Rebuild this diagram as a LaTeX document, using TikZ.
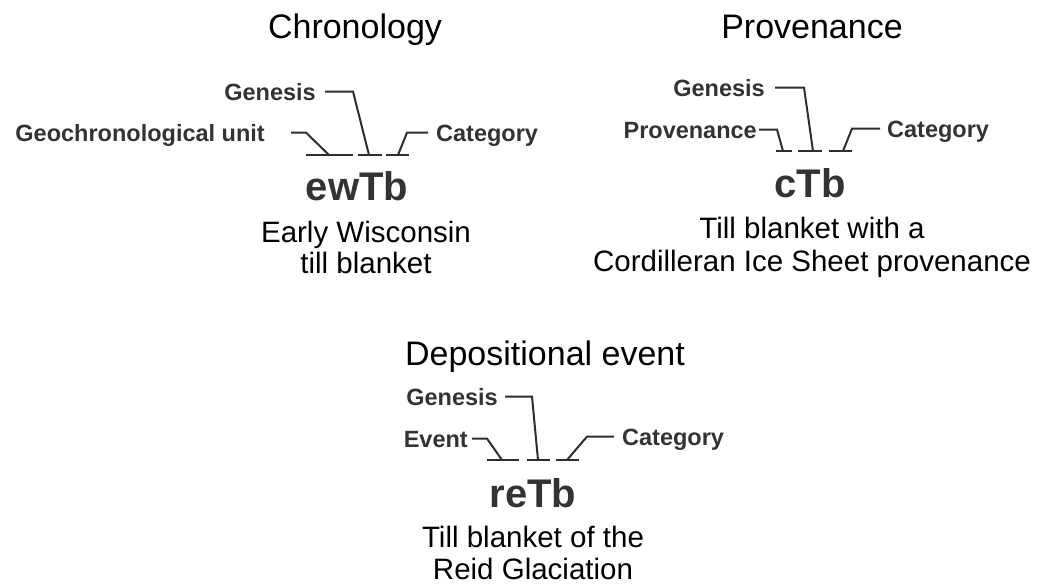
\documentclass[tikz,border=0pt]{standalone}
\usepackage{fontspec}
\setmainfont{Liberation Sans}
\definecolor{labc}{HTML}{333333}
\definecolor{linec}{HTML}{2E2E2E}
\newcommand{\titlefont}{\fontsize{34}{40}\selectfont}
\newcommand{\descfont}{\fontsize{29.5}{34}\selectfont}
\newcommand{\lblfont}{\fontsize{23.5}{28}\selectfont\bfseries}
\newcommand{\codefont}{\fontsize{40}{46}\selectfont\bfseries}
\tikzset{
  ttl/.style={font=\titlefont, text=black, inner sep=0, anchor=base},
  desc/.style={font=\descfont, text=black, inner sep=0, anchor=base},
  lbl/.style={font=\lblfont, text=labc, inner sep=0, text height=16.8pt, text depth=0pt},
  code/.style={font=\codefont, text=labc, inner sep=0, anchor=base},
  conn/.style={draw=linec, line width=2pt, line join=miter},
  bar/.style={draw=linec, line width=2pt}
}
\begin{document}
\begin{tikzpicture}[x=1pt,y=-1pt]
\useasboundingbox[fill=white] (0,0) rectangle (1040,584);

% ---------- Chronology ----------
\node[ttl] (t1) at (355,38) {Chronology};
\node[lbl, anchor=base east] (gen1) at (316,100) {Genesis};
\node[lbl, anchor=base east] (geo1) at (265,141) {Geochronological unit};
\node[lbl, anchor=base west] (cat1) at (436,141) {Category};
\coordinate (c1a) at (329,155);
\coordinate (c1b) at (369,155);
\coordinate (c1c) at (398,155);
\draw[bar] (306,155) -- (353,155);
\draw[bar] (358,155) -- (382,155);
\draw[bar] (386,155) -- (409,155);
\draw[conn] ([xshift=9pt]gen1.east) -- ++(28,0) -- (c1b);
\draw[conn] ([xshift=26pt]geo1.east) -- ++(15,0) -- (c1a);
\draw[conn] ([xshift=-8pt]cat1.west) -- ++(-21,0) -- (c1c);
\node[code] (k1) at (357,200) {ewTb};
\node[desc] (d1a) at (366,242) {Early Wisconsin};
\node[desc] (d1b) at (366,273) {till blanket};

% ---------- Provenance ----------
\node[ttl] (t2) at (812,38) {Provenance};
\node[lbl, anchor=base east] (gen2) at (765,96) {Genesis};
\node[lbl, anchor=base east] (prov2) at (757,138) {Provenance};
\node[lbl, anchor=base west] (cat2) at (887,137) {Category};
\coordinate (c2a) at (783,151);
\coordinate (c2b) at (813,151);
\coordinate (c2c) at (843,151);
\draw[bar] (776,151) -- (792,151);
\draw[bar] (798,151) -- (822,151);
\draw[bar] (829,151) -- (852,151);
\draw[conn] ([xshift=10pt]gen2.east) -- ++(29,0) -- (c2b);
\draw[conn] ([xshift=2pt]prov2.east) -- ++(18,0) -- (c2a);
\draw[conn] ([xshift=-7pt]cat2.west) -- ++(-28,0) -- (c2c);
\node[code] (k2) at (810,197) {cTb};
\node[desc] (d2a) at (812,238) {Till blanket with a};
\node[desc] (d2b) at (812,271) {Cordilleran Ice Sheet provenance};

% ---------- Depositional event ----------
\node[ttl] (t3) at (545,365) {Depositional event};
\node[lbl, anchor=base east] (gen3) at (498,405) {Genesis};
\node[lbl, anchor=base east] (ev3) at (468,447) {Event};
\node[lbl, anchor=base west] (cat3) at (622,445) {Category};
\coordinate (c3a) at (502,460);
\coordinate (c3b) at (538,460);
\coordinate (c3c) at (567,460);
\draw[bar] (487,460) -- (519,460);
\draw[bar] (527,460) -- (550,460);
\draw[bar] (556,460) -- (579,460);
\draw[conn] ([xshift=7pt]gen3.east) -- ++(27,0) -- (c3b);
\draw[conn] ([xshift=4pt]ev3.east) -- ++(15,0) -- (c3a);
\draw[conn] ([xshift=-8pt]cat3.west) -- ++(-27,0) -- (c3c);
\node[code] (k3) at (533,507) {reTb};
\node[desc] (d3a) at (533,547) {Till blanket of the};
\node[desc] (d3b) at (533,579) {Reid Glaciation};
\end{tikzpicture}
\end{document}
